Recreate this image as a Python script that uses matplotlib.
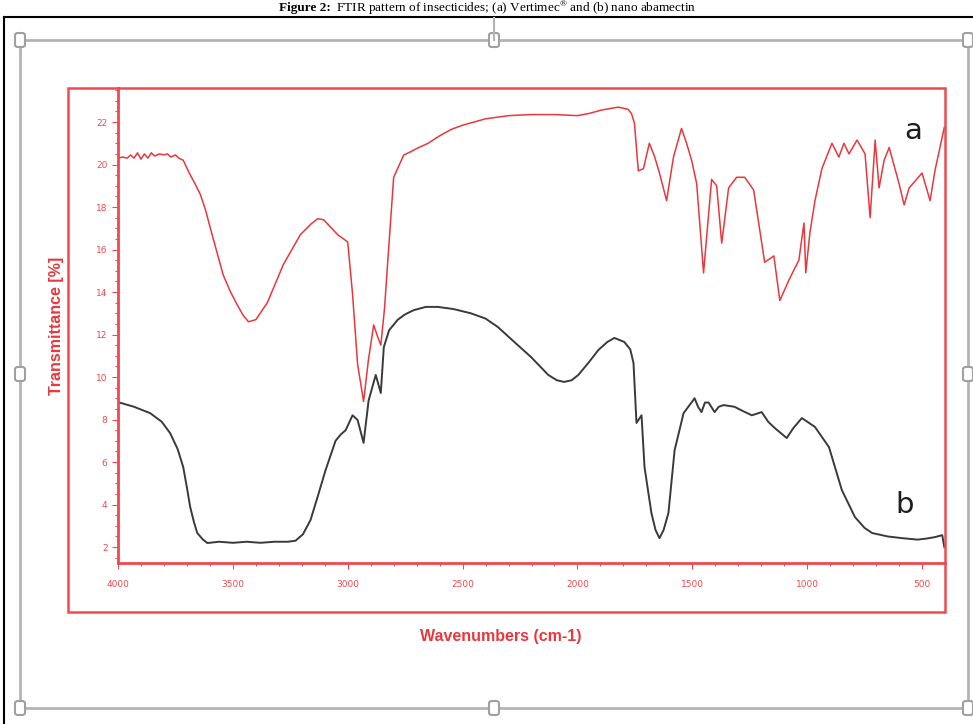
import matplotlib.pyplot as plt
from matplotlib.patches import Rectangle, FancyBboxPatch
from matplotlib.lines import Line2D
from matplotlib.ticker import MultipleLocator

plt.rcParams["mathtext.fontset"] = "custom"
plt.rcParams["mathtext.rm"] = "Liberation Serif"

# spectrum a (Vertimec) - wavenumber / transmittance
wn_a = [4000, 3980, 3960, 3945, 3930, 3915, 3900, 3885, 3870, 3855, 3840, 3820,
        3800, 3785, 3770, 3750, 3735, 3716, 3690, 3665, 3642, 3620, 3598, 3570,
        3542, 3510, 3481, 3455, 3432, 3400, 3350, 3280, 3206, 3160, 3131, 3105,
        3070, 3044, 3018, 3000, 2979, 2957, 2931, 2910, 2887, 2870, 2856, 2840,
        2826, 2800, 2756, 2726, 2700, 2650, 2600, 2550, 2500, 2450, 2400, 2300,
        2200, 2100, 2000, 1950, 1900, 1850, 1822, 1780, 1765, 1752, 1735, 1713,
        1687, 1665, 1643, 1612, 1582, 1547, 1525, 1503, 1481, 1451, 1416, 1394,
        1372, 1342, 1307, 1272, 1233, 1185, 1145, 1119, 1080, 1036, 1014, 1006,
        988, 966, 936, 892, 862, 840, 818, 783, 748, 726, 704, 687, 665, 643, 600,
        578, 556, 500, 465, 443, 403]
tr_a = [20.3, 20.35, 20.3, 20.45, 20.3, 20.55, 20.25, 20.5, 20.3, 20.55, 20.4, 20.5,
        20.45, 20.5, 20.35, 20.45, 20.3, 20.2, 19.6, 19.1, 18.6, 17.9, 17.0, 15.9,
        14.8, 14.0, 13.4, 12.9, 12.6, 12.7, 13.5, 15.3, 16.7, 17.2, 17.45, 17.4,
        17.0, 16.7, 16.5, 16.35, 13.9, 10.6, 8.85, 10.8, 12.45, 11.9, 11.5, 13.2,
        15.4, 19.4, 20.45, 20.6, 20.75, 21.0, 21.35, 21.65, 21.85, 22.0, 22.15, 22.3,
        22.35, 22.35, 22.3, 22.4, 22.55, 22.65, 22.7, 22.6, 22.4, 21.95, 19.7, 19.8,
        21.0, 20.4, 19.6, 18.3, 20.35, 21.7, 21.0, 20.2, 19.1, 14.9, 19.3, 19.0,
        16.3, 18.9, 19.4, 19.4, 18.8, 15.4, 15.7, 13.6, 14.55, 15.5, 17.25, 14.9,
        16.8, 18.3, 19.8, 21.0, 20.35, 21.0, 20.5, 21.15, 20.5, 17.5, 21.15, 18.9,
        20.2, 20.8, 19.1, 18.1, 18.9, 19.6, 18.3, 19.75, 21.75]

# spectrum b (nano abamectin)
wn_b = [4000, 3930, 3860, 3810, 3773, 3740, 3716, 3700, 3686, 3670, 3655, 3630,
        3611, 3560, 3500, 3440, 3380, 3320, 3260, 3227, 3195, 3162, 3130, 3097,
        3075, 3053, 3030, 3009, 2979, 2957, 2931, 2909, 2878, 2856, 2843, 2820,
        2782, 2750, 2712, 2660, 2608, 2540, 2464, 2400, 2346, 2280, 2202, 2127,
        2090, 2058, 2025, 1996, 1950, 1909, 1870, 1839, 1796, 1770,
        1756, 1743, 1721, 1708, 1678, 1660, 1643, 1625, 1604, 1577, 1538, 1490,
        1475, 1460, 1445, 1429, 1403, 1385, 1364, 1316, 1280, 1241, 1198, 1170,
        1141, 1089, 1060, 1023, 966, 905, 849, 792, 750, 717, 650, 587, 520, 480,
        443, 412, 403]
tr_b = [8.82, 8.6, 8.3, 7.9, 7.36, 6.6, 5.76, 4.8, 3.9, 3.2, 2.66, 2.35,
        2.19, 2.25, 2.2, 2.25, 2.2, 2.25, 2.25, 2.3, 2.6, 3.27, 4.4, 5.6,
        6.3, 7.0, 7.3, 7.5, 8.2, 7.98, 6.9, 8.9, 10.1, 9.25, 11.4, 12.2,
        12.7, 12.95, 13.15, 13.3, 13.3, 13.2, 13.0, 12.75, 12.35, 11.7, 10.94, 10.1,
        9.85, 9.77, 9.85, 10.1, 10.7, 11.27, 11.65, 11.84, 11.65, 11.3,
        10.66, 7.84, 8.2, 5.76, 3.6, 2.8, 2.42, 2.8, 3.6, 6.56, 8.3, 9.0,
        8.6, 8.35, 8.8, 8.8, 8.35, 8.6, 8.68, 8.6, 8.4, 8.2, 8.35, 7.9,
        7.6, 7.13, 7.6, 8.07, 7.65, 6.7, 4.68, 3.41, 2.9, 2.66, 2.5, 2.42, 2.35, 2.4,
        2.47, 2.56, 2.0]

red = "#e8383d"
axis_red = "#ee4a4f"

fig = plt.figure(figsize=(9.73, 7.24), dpi=100)
W, H = 973.0, 724.0


def fx(px):
    return px / W


def fy(py):
    return 1 - py / H


# word-style selection frame around the picture
fig.add_artist(Line2D([fx(4), fx(4)], [fy(17), 0], color="black", lw=1.5))
fig.add_artist(Line2D([fx(4), 1], [fy(17), fy(17)], color="black", lw=1.5))
fig.add_artist(Rectangle((fx(20), fy(708)), fx(948), 668 / H, fill=False,
                         ec="#b4b4b4", lw=2))
fig.add_artist(Line2D([fx(494), fx(494)], [fy(18), fy(40)], color="#b4b4b4", lw=1.5))
for hx, hy in [(20, 40), (494, 40), (968, 40), (20, 374), (968, 374),
               (20, 708), (494, 708), (968, 708)]:
    fig.add_artist(FancyBboxPatch((fx(hx - 5), fy(hy + 7)), 10 / W, 14 / H,
                                  boxstyle="round,pad=0,rounding_size=0.003",
                                  fc="white", ec="#a0a0a0", lw=1.5))

# caption: bold "Figure 2:" followed by plain text, centred together
t_bold = fig.text(0, fy(8), "Figure 2:", ha="left", va="center", fontsize=9.5,
                  fontweight="bold", family="Liberation Serif")
t_rest = fig.text(0, fy(8), r" FTIR pattern of insecticides; (a) Vertimec$^{®}$"
                  " and (b) nano abamectin", ha="left", va="center", fontsize=9.5,
                  family="Liberation Serif")
renderer = fig.canvas.get_renderer()
wb = t_bold.get_window_extent(renderer).width
wr = t_rest.get_window_extent(renderer).width
x0 = (W - wb - wr) / 2
t_bold.set_x(x0 / W)
t_rest.set_x((x0 + wb + 2) / W)

# outer red box of the original plot
fig.add_artist(Rectangle((fx(68), fy(612)), 877 / W, 524 / H, fill=False,
                         ec=axis_red, lw=1.8))

ax = fig.add_axes([fx(118), fy(563), 827 / W, 475 / H])
ax.plot(wn_a, tr_a, color=red, lw=1.1)
ax.plot(wn_b, tr_b, color="#3a3a3a", lw=1.4)

ax.set_xlim(4000, 400)
ax.set_ylim(1.25, 23.6)
ax.set_xticks([4000, 3500, 3000, 2500, 2000, 1500, 1000, 500])
ax.xaxis.set_minor_locator(MultipleLocator(100))
ax.set_yticks(range(2, 23, 2))
ax.yaxis.set_minor_locator(MultipleLocator(0.5))
ax.tick_params(which="both", colors=axis_red, labelcolor=axis_red, labelsize=6.5,
               width=0.8)
ax.tick_params(which="major", length=4)
ax.tick_params(which="minor", length=2.5)
ax.tick_params(axis="x", pad=8)
for s in ["top", "right"]:
    ax.spines[s].set_visible(False)
for s in ["left", "bottom"]:
    ax.spines[s].set_color(axis_red)
    ax.spines[s].set_linewidth(2)

ax.text(539, 21.6, "a", fontsize=21, color="#1e1e1e", ha="center", va="center")
ax.text(574, 4.0, "b", fontsize=21, color="#1e1e1e", ha="center", va="center")

fig.text(fx(501), fy(637), "Wavenumbers (cm-1)", ha="center", va="center",
         fontsize=11.5, fontweight="bold", color=red, family="Liberation Sans")
fig.text(fx(57), fy(326), "Transmittance [%]", ha="center", va="center",
         rotation=90, fontsize=11.5, fontweight="bold", color=red,
         family="Liberation Sans")

fig.savefig("out.png", dpi=100, facecolor="white")
